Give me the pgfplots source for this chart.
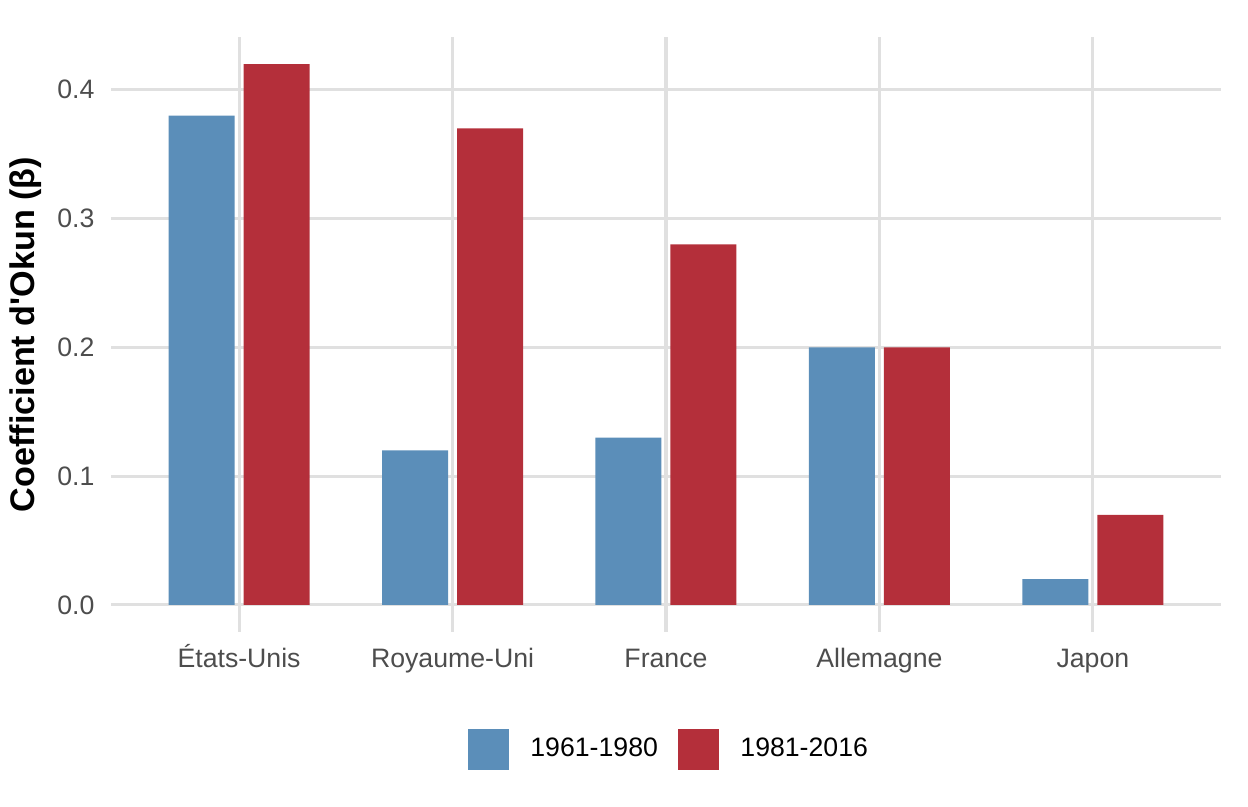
\documentclass[border=0pt]{standalone}
\usepackage{pgfplots}
\pgfplotsset{compat=1.18}
\usepackage{fontspec}
\setmainfont{Liberation Sans}
\definecolor{cblue}{RGB}{91,142,185}
\definecolor{cred}{RGB}{180,47,58}
\definecolor{gridc}{RGB}{224,224,224}
\definecolor{tickc}{RGB}{77,77,77}
\begin{document}
\begin{tikzpicture}
\useasboundingbox (-39.96pt,-62.64pt) rectangle (409.32pt,227.52pt);
\begin{axis}[
  at={(0pt,0pt)}, anchor=south west,
  scale only axis,
  width=399.6pt, height=214.2pt,
  xmin=-0.6, xmax=4.6,
  ymin=-0.021, ymax=0.441,
  axis line style={draw=none},
  tick style={draw=none},
  major tick length=0pt,
  xmajorgrids, ymajorgrids,
  major grid style={draw=gridc, line width=1.1pt},
  xtick={0,1,2,3,4},
  xticklabels={États-Unis, Royaume-Uni, France, Allemagne, Japon},
  ytick={0,0.1,0.2,0.3,0.4},
  yticklabels={0.0,0.1,0.2,0.3,0.4},
  xticklabel style={font=\fontsize{9.6}{11}\selectfont, text=tickc, anchor=base, inner sep=0pt, yshift=-12.85pt},
  yticklabel style={font=\fontsize{9.6}{11}\selectfont, text=tickc, anchor=east, inner sep=0pt, xshift=-5.76pt},
  ylabel={\textbf{Coefficient d\textquotesingle Okun (β)}},
  ylabel style={font=\fontsize{12.3}{14}\selectfont, at={(axis description cs:-0.0766,0.5)}, anchor=center, rotate=0, inner sep=0pt},
  clip=false,
  ybar,
  bar width=23.76pt,
  legend columns=2,
  legend cell align=left,
  legend image code/.code={\fill[#1] (0pt,-7.47pt) rectangle (14.94pt,7.47pt);},
  legend style={at={(axis description cs:0.5,0)}, anchor=center, yshift=-42.3pt, xshift=0.7pt, draw=none, fill=none,
    font=\fontsize{9.6}{11}\selectfont,
    nodes={inner sep=0pt},
    column sep=0pt,
    /tikz/every odd column/.append style={column sep=7.56pt},
    /tikz/every even column/.append style={column sep=7.2pt}},
]
\addplot[fill=cblue, draw=none, bar shift=-13.5pt] coordinates {(0,0.38) (1,0.12) (2,0.13) (3,0.20) (4,0.02)};
\addplot[fill=cred, draw=none, bar shift=13.5pt] coordinates {(0,0.42) (1,0.37) (2,0.28) (3,0.20) (4,0.07)};
\legend{1961-1980,1981-2016}
\end{axis}
\end{tikzpicture}
\end{document}
